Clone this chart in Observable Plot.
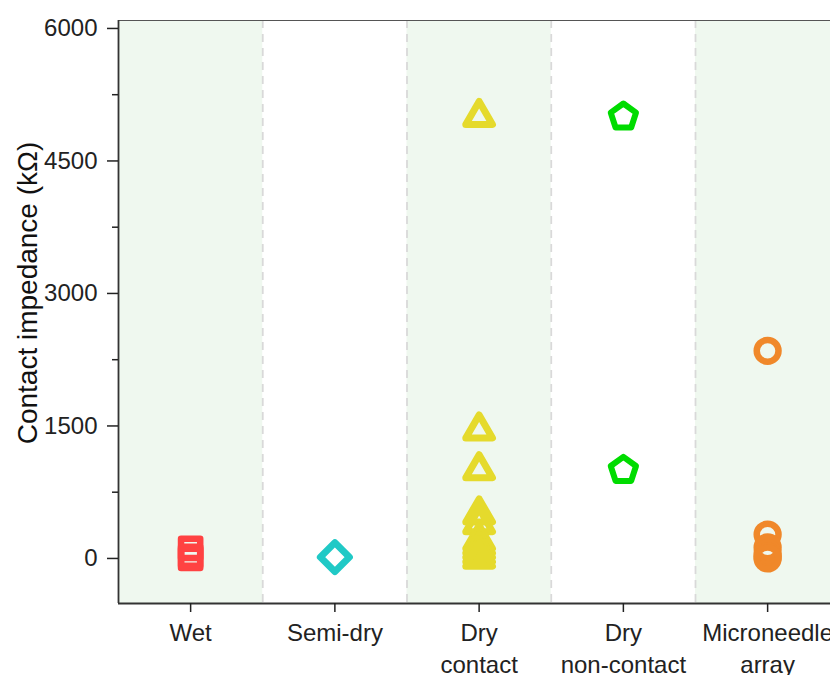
<!DOCTYPE html>
<html>
<head>
<meta charset="utf-8">
<script src="https://cdn.jsdelivr.net/npm/d3@7"></script>
<script src="https://cdn.jsdelivr.net/npm/@observablehq/plot@0.6"></script>
<style>
  html, body { margin: 0; padding: 0; background: #fff; }
</style>
</head>
<body>
<div id="chart"></div>
<script>
// ---- data ----
const categories = ["Wet", "Semi-dry", "Dry\ncontact", "Dry\nnon-contact", "Microneedle\narray"];
const wet = [115, 25, 0];
const semiDry = [15];
const dryContact = [5000, 1450, 1000, 500, 390, 200, 150, 100, 50, 0];
const dryNonContact = [5000, 1000];
const microneedle = [2350, 270, 125, 60, 20, 0];
const yTicks = [0, 1500, 3000, 4500, 6000];
const yMinorTicks = [750, 2250, 3750, 5250];
const yLabel = "Contact impedance (kΩ)";

// ---- layout ----
const W = 830, H = 675;
const mL = 118, mT = 20, mB = 72, mR = 0;
const yDomain = [-510, 6090];
const xStep = 144.25; // px per category
const xDomain = [0.5, 0.5 + (W - mL - mR) / xStep];

// custom symbols (size = r^2 * PI)
const rad = s => Math.sqrt(s / Math.PI);
const squareSym = {draw(c, s) { const h = rad(s); c.moveTo(-h, -h); c.lineTo(h, -h); c.lineTo(h, h); c.lineTo(-h, h); c.closePath(); }};
const diamondSym = {draw(c, s) { const a = rad(s); c.moveTo(0, -a); c.lineTo(a, 0); c.lineTo(0, a); c.lineTo(-a, 0); c.closePath(); }};
const triangleSym = {draw(c, s) { const R = rad(s); // circumradius, centroid at origin
  c.moveTo(0, -R);
  c.lineTo(R * Math.sin(2 * Math.PI / 3), -R * Math.cos(2 * Math.PI / 3));
  c.lineTo(-R * Math.sin(2 * Math.PI / 3), -R * Math.cos(2 * Math.PI / 3));
  c.closePath(); }};
const pentagonSym = {draw(c, s) { const R = rad(s);
  for (let k = 0; k < 5; k++) { const t = k * 2 * Math.PI / 5; const px = R * Math.sin(t), py = -R * Math.cos(t); k ? c.lineTo(px, py) : c.moveTo(px, py); }
  c.closePath(); }};
const circleSym = {draw(c, s) { const r = rad(s); c.moveTo(r, 0); c.arc(0, 0, r, 0, 2 * Math.PI); }};

const series = [
  {vals: wet, pos: 1, sym: squareSym, r: 9.6, color: "#ff4242", sw: 6.5},
  {vals: semiDry, pos: 2, sym: diamondSym, r: 14.5, color: "#20c9c6", sw: 7},
  {vals: dryContact, pos: 3, sym: triangleSym, r: 15.4, color: "#e5da2c", sw: 7},
  {vals: dryNonContact, pos: 4, sym: pentagonSym, r: 13.3, color: "#00dc00", sw: 6},
  {vals: microneedle, pos: 5, sym: circleSym, r: 10.9, color: "#f0882a", sw: 6.5}
];

const dotMarks = series.map(s => Plot.dot(s.vals.map(v => ({x: s.pos, y: v})), {
  x: "x", y: "y", symbol: s.sym, r: s.r, stroke: s.color, strokeWidth: s.sw,
  fill: "none", strokeLinejoin: "round"
}));

const chart = Plot.plot({
  width: W, height: H,
  marginLeft: mL, marginTop: mT, marginBottom: mB, marginRight: mR,
  style: {fontFamily: "'Liberation Sans', Arial, sans-serif", background: "#fff", color: "#000"},
  x: {type: "linear", domain: xDomain},
  y: {domain: yDomain},
  marks: [
    Plot.rect([1, 3, 5], {x1: d => d - 0.5, x2: d => d + 0.5, y1: yDomain[0], y2: yDomain[1], fill: "#eff8ef"}),
    Plot.ruleX([1.5, 2.5, 3.5, 4.5], {stroke: "#d9d9d9", strokeWidth: 1.8, strokeDasharray: "8,6"}),
    ...dotMarks,
    Plot.ruleY([yDomain[1]], {stroke: "#555", strokeWidth: 1}),
    Plot.ruleX([xDomain[0]], {stroke: "#333", strokeWidth: 1.8}),
    Plot.ruleY([yDomain[0]], {stroke: "#333", strokeWidth: 1.8}),
    Plot.axisY(yTicks, {tickSize: 11, tickPadding: 10, fontSize: 24, label: null, color: "#222", strokeWidth: 1.5,
      tickFormat: d => String(d)}),
    Plot.axisY(yMinorTicks, {tickSize: 6, text: null, label: null, color: "#222", strokeWidth: 1.5}),
    Plot.axisX([1, 2, 3, 4, 5], {tickSize: 9, tickPadding: 6, fontSize: 24, lineHeight: 1.33,
      tickFormat: i => categories[i - 1], label: null, color: "#222", strokeWidth: 1.5}),
    Plot.text([yLabel], {frameAnchor: "left", textAnchor: "middle", rotate: -90, dx: -90, dy: -19, fontSize: 28, fill: "#111"})
  ]
});
document.getElementById("chart").appendChild(chart);
</script>
</body>
</html>
